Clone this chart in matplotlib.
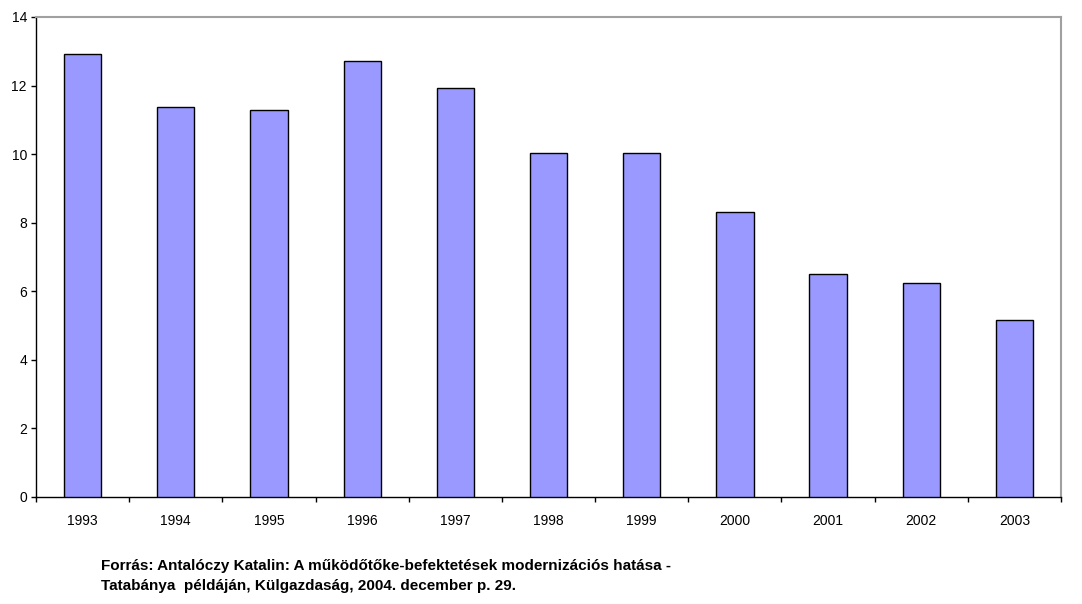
import matplotlib

matplotlib.use("Agg")
import matplotlib.pyplot as plt
import numpy as np

years = ["1993", "1994", "1995", "1996", "1997", "1998", "1999", "2000", "2001", "2002", "2003"]
values = [12.92, 11.37, 11.28, 12.71, 11.92, 10.02, 10.02, 8.30, 6.50, 6.23, 5.16]
source_lines = [
    "Forrás: Antalóczy Katalin: A működőtőke-befektetések modernizációs hatása -",
    "Tatabánya  példáján, Külgazdaság, 2004. december p. 29.",
]

plt.rcParams["font.family"] = ["Liberation Sans", "DejaVu Sans"]

fig = plt.figure(figsize=(10.82, 6.04), dpi=100)
ax = fig.add_axes([36 / 1082, 1 - 497 / 604, 1025 / 1082, 480 / 604])

x = np.arange(len(years))
ax.bar(x, values, width=0.4, color="#9999ff", edgecolor="black", linewidth=1.0, zorder=3)

ax.set_xlim(-0.5, len(years) - 0.5)
ax.set_ylim(0, 14)
ax.set_yticks(np.arange(0, 15, 2))
ax.set_xticks(x)
ax.set_xticklabels(years)
ax.set_xticks(np.arange(-0.5, len(years)), minor=True)
ax.tick_params(axis="x", which="major", length=0, pad=12, labelsize=10)
ax.tick_params(axis="x", which="minor", length=3.5, direction="out", width=1)
ax.tick_params(axis="y", length=3.5, direction="out", width=1, labelsize=10, pad=3)

for side in ("top", "right"):
    ax.spines[side].set_color("#a0a0a0")
    ax.spines[side].set_linewidth(1.5)
for side in ("left", "bottom"):
    ax.spines[side].set_color("black")
    ax.spines[side].set_linewidth(1.0)

fig.text(101 / 1082, 1 - 566 / 604, source_lines[0], fontsize=11, fontweight="bold", va="center")
fig.text(101 / 1082, 1 - 586 / 604, source_lines[1], fontsize=11, fontweight="bold", va="center")

fig.savefig("out.png", dpi=100)
plt.close(fig)
